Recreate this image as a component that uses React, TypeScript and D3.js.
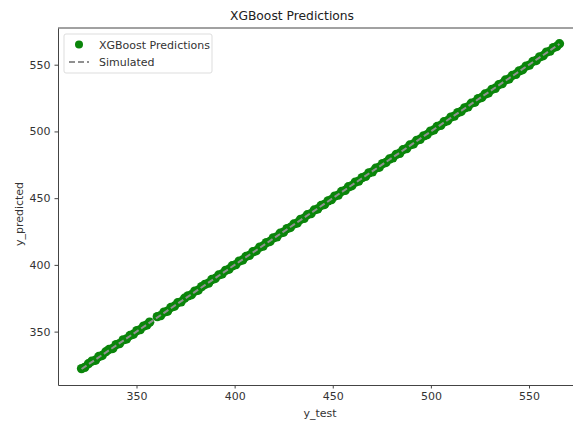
import * as d3 from 'd3'
import { useEffect, useRef } from 'react'

// actual values (x) and XGBoost predictions (y)
const yTest = [
  322.0, 323.6, 325.5, 327.2, 329.1, 330.8, 332.5, 334.4, 336.0, 337.9,
  339.6, 341.3, 343.2, 344.9, 346.7, 348.4, 350.2, 351.9, 353.6, 355.3,
  356.7, 360.6, 362.3, 364.0, 365.8, 367.5, 369.3, 371.0, 372.7, 374.5,
  376.2, 378.0, 379.7, 381.4, 383.2, 384.9, 386.7, 388.4, 390.1, 391.9,
  393.6, 395.4, 397.1, 398.8, 400.6, 402.3, 404.1, 405.8, 407.5, 409.3,
  411.0, 412.8, 414.5, 416.2, 418.0, 419.7, 421.5, 423.2, 424.9, 426.7,
  428.4, 430.2, 431.9, 433.6, 435.4, 437.1, 438.9, 440.6, 442.3, 444.1,
  445.8, 447.6, 449.3, 451.0, 452.8, 454.5, 456.3, 458.0, 459.7, 461.5,
  463.2, 465.0, 466.7, 468.4, 470.2, 471.9, 473.7, 475.4, 477.1, 478.9,
  480.6, 482.4, 484.1, 485.8, 487.6, 489.3, 491.1, 492.8, 494.5, 496.3,
  498.0, 499.8, 501.5, 503.2, 505.0, 506.7, 508.5, 510.2, 511.9, 513.7,
  515.4, 517.2, 518.9, 520.6, 522.4, 524.1, 525.9, 527.6, 529.3, 531.1,
  532.8, 534.6, 536.3, 538.0, 539.8, 541.5, 543.3, 545.0, 546.7, 548.5,
  550.2, 552.0, 553.7, 555.4, 557.2, 558.9, 560.7, 562.4, 564.1, 565.5,
]

const yPred = [
  322.3, 323.2, 325.9, 327.8, 328.6, 331.3, 332.1, 334.9, 336.6, 337.4,
  340.2, 341.0, 343.8, 344.5, 347.1, 348.0, 350.7, 351.5, 354.1, 355.0,
  357.1, 361.2, 362.0, 364.6, 365.3, 368.1, 369.0, 371.6, 372.3, 375.0,
  376.8, 377.6, 380.3, 381.0, 383.7, 385.4, 386.3, 389.0, 389.8, 392.4,
  393.2, 395.9, 396.7, 399.3, 400.2, 402.8, 403.7, 406.3, 407.1, 409.8,
  410.6, 413.3, 414.1, 416.7, 417.5, 420.2, 421.0, 423.7, 424.5, 427.2,
  428.0, 430.6, 431.4, 434.1, 434.9, 437.6, 438.4, 441.1, 441.9, 444.5,
  445.3, 448.0, 448.9, 451.5, 452.3, 455.0, 455.8, 458.5, 459.3, 462.0,
  462.8, 465.4, 466.3, 468.9, 469.7, 472.4, 473.2, 475.9, 476.7, 479.3,
  480.2, 482.8, 483.6, 486.3, 487.1, 489.8, 490.6, 493.3, 494.1, 496.7,
  497.5, 500.2, 501.1, 503.7, 504.5, 507.2, 508.0, 510.7, 511.5, 514.1,
  514.9, 517.6, 518.4, 521.1, 521.9, 524.6, 525.4, 528.0, 528.8, 531.5,
  532.3, 535.0, 535.8, 538.5, 539.3, 541.9, 542.8, 545.4, 546.2, 548.9,
  549.7, 552.4, 553.2, 555.9, 556.7, 559.4, 560.2, 562.8, 563.6, 565.7,
]

const xTicks = [350, 400, 450, 500, 550]
const yTicks = [350, 400, 450, 500, 550]

const App = () => {
  const ref = useRef<SVGSVGElement>(null)

  useEffect(() => {
    const width = 573
    const height = 426
    const margin = { top: 28, right: -9, bottom: 41, left: 58 }
    const font = 'DejaVu Sans, sans-serif'
    const textColor = '#333'

    const svg = d3.select(ref.current)
    svg.selectAll('*').remove()
    svg.attr('width', width).attr('height', height)

    const x = d3.scaleLinear().domain([310, 577]).range([margin.left, width - margin.right])
    const y = d3.scaleLinear().domain([310, 577.5]).range([height - margin.bottom, margin.top])

    // X axis
    const gx = svg
      .append('g')
      .attr('transform', `translate(0, ${height - margin.bottom})`)
      .call(d3.axisBottom(x).tickValues(xTicks).tickSize(3.5).tickPadding(4).tickSizeOuter(0))
    gx.select('.domain').attr('stroke', '#444')
    gx.selectAll('line').attr('stroke', '#444')
    gx.selectAll('text').style('font-size', '11px').style('font-family', font).attr('fill', textColor)

    // Y axis
    const gy = svg
      .append('g')
      .attr('transform', `translate(${margin.left}, 0)`)
      .call(d3.axisLeft(y).tickValues(yTicks).tickSize(3.5).tickPadding(4).tickSizeOuter(0))
    gy.select('.domain').attr('stroke', '#444')
    gy.selectAll('line').attr('stroke', '#444')
    gy.selectAll('text').style('font-size', '11px').style('font-family', font).attr('fill', textColor)

    // top spine
    svg
      .append('line')
      .attr('x1', margin.left)
      .attr('x2', width)
      .attr('y1', margin.top)
      .attr('y2', margin.top)
      .attr('stroke', '#444')

    // Points
    svg
      .append('g')
      .attr('fill', '#0a850a')
      .selectAll('circle')
      .data(yTest)
      .join('circle')
      .attr('cx', (d) => x(d))
      .attr('cy', (d, i) => y(yPred[i]))
      .attr('r', 4.7)

    // Simulated line
    const lo = d3.min(yTest) as number
    const hi = d3.max(yTest) as number
    svg
      .append('line')
      .attr('x1', x(lo))
      .attr('y1', y(lo))
      .attr('x2', x(hi))
      .attr('y2', y(hi))
      .attr('stroke', '#909090')
      .attr('stroke-width', 2)
      .attr('stroke-dasharray', '6,3')

    // Title and labels
    svg
      .append('text')
      .attr('x', 292)
      .attr('y', 20)
      .attr('text-anchor', 'middle')
      .style('font-family', font)
      .style('font-size', '12.3px')
      .attr('fill', '#222')
      .text('XGBoost Predictions')

    svg
      .append('text')
      .attr('x', 320)
      .attr('y', 417)
      .attr('text-anchor', 'middle')
      .style('font-family', font)
      .style('font-size', '11px')
      .attr('fill', textColor)
      .text('y_test')

    svg
      .append('text')
      .attr('transform', 'rotate(-90)')
      .attr('x', -214)
      .attr('y', 23)
      .attr('text-anchor', 'middle')
      .style('font-family', font)
      .style('font-size', '11px')
      .attr('fill', textColor)
      .text('y_predicted')

    // Legend
    const lg = svg.append('g')
    lg.append('rect')
      .attr('x', 64)
      .attr('y', 34)
      .attr('width', 148)
      .attr('height', 39)
      .attr('rx', 2)
      .attr('fill', 'white')
      .attr('fill-opacity', 0.85)
      .attr('stroke', '#dddddd')
    lg.append('circle').attr('cx', 79).attr('cy', 44.5).attr('r', 4).attr('fill', '#0a850a')
    lg.append('line')
      .attr('x1', 69)
      .attr('x2', 89)
      .attr('y1', 62)
      .attr('y2', 62)
      .attr('stroke', '#909090')
      .attr('stroke-width', 2)
      .attr('stroke-dasharray', '6,3')
    lg.append('text')
      .attr('x', 99)
      .attr('y', 48.5)
      .style('font-family', font)
      .style('font-size', '11px')
      .attr('fill', textColor)
      .text('XGBoost Predictions')
    lg.append('text')
      .attr('x', 99)
      .attr('y', 66)
      .style('font-family', font)
      .style('font-size', '11px')
      .attr('fill', textColor)
      .text('Simulated')
  }, [])

  return (
    <div style={{ position: 'absolute', left: 0, top: 0, background: 'white' }}>
      <svg ref={ref} style={{ display: 'block' }}></svg>
    </div>
  )
}

export default App
